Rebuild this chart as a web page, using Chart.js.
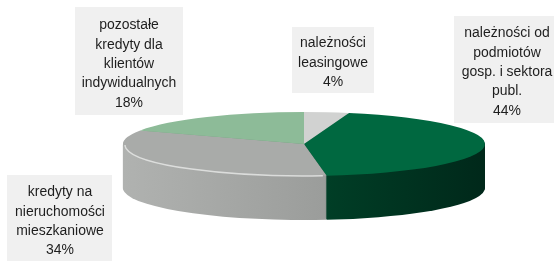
<!DOCTYPE html>
<html>
<head>
<meta charset="utf-8">
<script src="https://cdn.jsdelivr.net/npm/chart.js@4/dist/chart.umd.min.js"></script>
<style>
  html, body { margin: 0; padding: 0; background: #fff; }
</style>
</head>
<body>
<canvas id="chart" width="554" height="262"></canvas>
<script>
// Data
const categories = [
    ["należności", "leasingowe"],
    ["należności od", "podmiotów", "gosp. i sektora", "publ."],
    ["kredyty na", "nieruchomości", "mieszkaniowe"],
    ["pozostałe", "kredyty dla", "klientów", "indywidualnych"]
];
const shares = [4, 44, 34, 18];

// Styles
const topColors = ["#d1d2d1", "#006840", "#a9aba9", "#8dbb98"];
const sideColors = [
    ["#b8b9b8", "#a0a1a0"],
    ["#005a35", "#00281a"],
    ["#b0b2b0", "#8a8c8a"],
    ["#7aa886", "#5f8a6c"]
];
const RX = 181, RY = 32, DEPTH = 44;

// label boxes: [left, top, width, height], text centre x, first line y
const labelLayout = [
    { box: [292, 27, 82, 66], cx: 333, y0: 43 },
    { box: [454, 16, 100, 107], cx: 507, y0: 33 },
    { box: [7, 175, 105, 86], cx: 60, y0: 192 },
    { box: [75, 7, 108, 108], cx: 129, y0: 25 }
];
const LINE_H = 19.4;
const LABEL_FONT = "15.5px 'Liberation Sans', Arial, sans-serif";
const LABEL_SQUEEZE = 0.9;

const pie3d = {
    id: "pie3d",
    beforeDatasetsDraw(chart) {
        const ctx = chart.ctx;
        const arcs = chart.getDatasetMeta(0).data;
        if (!arcs.length) return;
        const cx = arcs[0].x, cy = arcs[0].y, r = arcs[0].outerRadius;

        // side wall, stacked layers from bottom to top
        const grads = sideColors.map(c => {
            const g = ctx.createLinearGradient(cx - RX, 0, cx + RX, 0);
            g.addColorStop(0, c[0]);
            g.addColorStop(1, c[1]);
            return g;
        });
        for (let d = DEPTH; d >= 1; d--) {
            arcs.forEach((arc, i) => {
                ctx.beginPath();
                ctx.moveTo(cx, cy + d);
                ctx.ellipse(cx, cy + d, RX, RY, 0, arc.startAngle, arc.endAngle);
                ctx.closePath();
                ctx.fillStyle = grads[i];
                ctx.fill();
            });
        }

        // squash the real pie into the top face
        ctx.save();
        ctx.translate(cx, cy);
        ctx.scale(RX / r, RY / r);
        ctx.translate(-cx, -cy);
    },
    afterDatasetsDraw(chart) {
        const ctx = chart.ctx;
        ctx.restore();

        const arcs = chart.getDatasetMeta(0).data;
        const cx = arcs[0].x, cy = arcs[0].y;

        // light bevel line on the front edge of the grey slice
        const gray = arcs[2];
        ctx.save();
        ctx.beginPath();
        ctx.ellipse(cx, cy + 1, RX - 2, RY - 1, 0, gray.startAngle + 0.02, Math.min(gray.endAngle, Math.PI));
        ctx.strokeStyle = "rgba(232,234,232,0.8)";
        ctx.lineWidth = 1.5;
        ctx.stroke();
        ctx.restore();
    },
    afterDraw(chart) {
        const ctx = chart.ctx;
        ctx.save();
        ctx.font = LABEL_FONT;
        ctx.textAlign = "center";
        ctx.textBaseline = "middle";
        labelLayout.forEach((l, i) => {
            ctx.fillStyle = "#f0f0f0";
            ctx.fillRect(l.box[0], l.box[1], l.box[2], l.box[3]);
            const lines = categories[i].concat([shares[i] + "%"]);
            ctx.fillStyle = "#1e1e1e";
            lines.forEach((t, j) => {
                ctx.save();
                ctx.translate(l.cx, l.y0 + j * LINE_H);
                ctx.scale(LABEL_SQUEEZE, 1);
                ctx.fillText(t, 0, 0);
                ctx.restore();
            });
        });
        ctx.restore();
    }
};

new Chart(document.getElementById("chart"), {
    type: "pie",
    data: {
        labels: categories,
        datasets: [{
            data: shares,
            backgroundColor: topColors,
            borderWidth: 0,
            clip: false
        }]
    },
    options: {
        responsive: false,
        animation: false,
        devicePixelRatio: 1,
        layout: { padding: { left: 204, right: 150, top: 44, bottom: 18 } },
        plugins: {
            legend: { display: false },
            tooltip: { enabled: false }
        }
    },
    plugins: [pie3d]
});
</script>
</body>
</html>
